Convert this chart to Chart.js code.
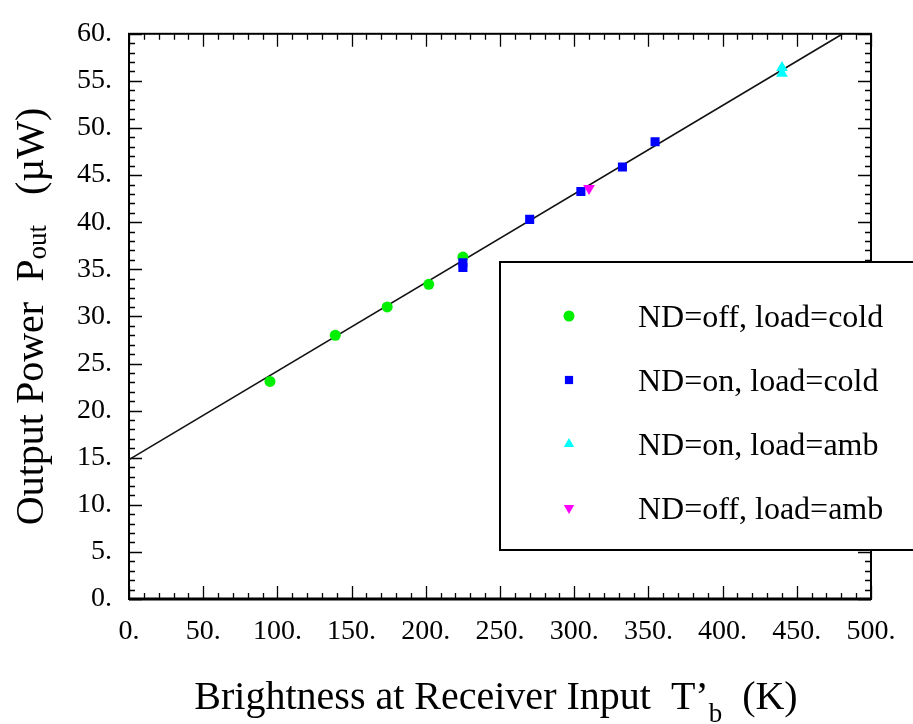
<!DOCTYPE html>
<html>
<head>
<meta charset="utf-8">
<script src="https://cdn.jsdelivr.net/npm/chart.js@4.4.0/dist/chart.umd.min.js"></script>
<style>
  html, body { margin: 0; padding: 0; background: #fff; }
  #wrap { width: 913px; height: 724px; }
</style>
</head>
<body>
<div id="wrap"><canvas id="c" width="913" height="724"></canvas></div>
<script>
// ---- data ----
const greenX = [95, 139, 174, 202, 225];
const greenY = [23.1, 28.0, 31.0, 33.4, 36.3];
const blueX = [225, 225, 270, 304.5, 332.5, 354.5];
const blueY = [35.2, 35.7, 40.3, 43.25, 45.85, 48.55];
const cyanX = [440, 440];
const cyanY = [56.4, 55.8];
const magentaX = [310];
const magentaY = [43.6];
const fitX = [0, 481];
const fitY = [14.8, 60];
const seriesLabels = ['ND=off, load=cold', 'ND=on, load=cold', 'ND=on, load=amb', 'ND=off, load=amb'];
const xRange = [0, 500];
const yRange = [0, 60];

const pts = (xs, ys) => xs.map((x, i) => ({ x: x, y: ys[i] }));
const SERIF = "'Liberation Serif', 'DejaVu Serif', serif";
Chart.defaults.font.family = SERIF;
Chart.defaults.color = '#000';

const frameTicks = {
  id: 'frameTicks',
  beforeDatasetsDraw(chart) {
    const { ctx, chartArea: a, scales: { x, y } } = chart;
    ctx.save();
    ctx.strokeStyle = '#000';
    ctx.lineWidth = 1.3;
    ctx.beginPath();
    for (let v = xRange[0]; v <= xRange[1]; v += 10) {
      const px = Math.round(x.getPixelForValue(v)) + 0.5;
      const len = (v % 50 === 0) ? 13 : 6;
      ctx.moveTo(px, a.bottom); ctx.lineTo(px, a.bottom - len);
      ctx.moveTo(px, a.top); ctx.lineTo(px, a.top + len);
    }
    for (let v = yRange[0]; v <= yRange[1]; v += 1) {
      const py = Math.round(y.getPixelForValue(v)) + 0.5;
      const len = (v % 5 === 0) ? 13 : 6;
      ctx.moveTo(a.left, py); ctx.lineTo(a.left + len, py);
      ctx.moveTo(a.right, py); ctx.lineTo(a.right - len, py);
    }
    ctx.stroke();
    ctx.lineWidth = 2;
    ctx.strokeRect(a.left, a.top, a.right - a.left, a.bottom - a.top);
    ctx.lineWidth = 3;
    ctx.beginPath();
    ctx.moveTo(a.left, a.bottom); ctx.lineTo(a.right, a.bottom);
    ctx.stroke();
    ctx.restore();
  }
};

function drawSegments(ctx, segs) {
  let total = 0;
  segs.forEach(s => { ctx.font = s.size + 'px ' + SERIF; s.w = ctx.measureText(s.text).width; total += s.w; });
  let cur = -total / 2;
  segs.forEach(s => {
    ctx.font = s.size + 'px ' + SERIF;
    ctx.fillText(s.text, cur, s.dy || 0);
    cur += s.w;
  });
}

const overlay = {
  id: 'overlay',
  afterDraw(chart) {
    const { ctx, chartArea: a } = chart;
    ctx.save();
    ctx.fillStyle = '#000';
    ctx.textAlign = 'left';
    ctx.textBaseline = 'alphabetic';
    // x title
    ctx.save();
    ctx.translate((a.left + a.right) / 2 - 4, 709);
    drawSegments(ctx, [
      { text: 'Brightness at Receiver Input  T\u2019', size: 40 },
      { text: 'b', size: 27, dy: 13 },
      { text: '  (K)', size: 40 }
    ]);
    ctx.restore();
    // y title
    ctx.save();
    ctx.translate(43, (a.top + a.bottom) / 2);
    ctx.rotate(-Math.PI / 2);
    drawSegments(ctx, [
      { text: 'Output Power  P', size: 40 },
      { text: 'out', size: 27, dy: 3 },
      { text: '   (\u00b5W)', size: 40 }
    ]);
    ctx.restore();

    // legend box
    const bx = 500, by = 262, bw = 420, bh = 288;
    ctx.fillStyle = '#fff';
    ctx.fillRect(bx, by, bw, bh);
    ctx.strokeStyle = '#000';
    ctx.lineWidth = 2;
    ctx.strokeRect(bx, by, bw, bh);
    const rows = [316, 380, 444, 508];
    const dsIdx = [1, 2, 3, 4];
    dsIdx.forEach((di, i) => {
      const ds = chart.data.datasets[di];
      ctx.fillStyle = ds.backgroundColor;
      ctx.strokeStyle = ds.borderColor;
      ctx.lineWidth = 0;
      Chart.helpers.drawPoint(ctx, {
        pointStyle: ds.pointStyle,
        radius: ds.legendRadius,
        rotation: ds.rotation || 0,
        borderWidth: 0
      }, 569, rows[i]);
      ctx.fillStyle = '#000';
      ctx.font = '32px ' + SERIF;
      ctx.fillText(ds.label, 638, rows[i] + 11);
    });
    ctx.restore();
  }
};

new Chart(document.getElementById('c'), {
  type: 'scatter',
  data: {
    datasets: [
      {
        type: 'line', label: 'fit', data: pts(fitX, fitY),
        borderColor: '#111', borderWidth: 1.6, pointRadius: 0, fill: false, order: 10
      },
      {
        label: seriesLabels[0], data: pts(greenX, greenY), pointStyle: 'circle',
        backgroundColor: '#00f000', borderColor: '#00f000', borderWidth: 0,
        pointRadius: 5.5, legendRadius: 5.5, order: 4
      },
      {
        label: seriesLabels[1], data: pts(blueX, blueY), pointStyle: 'rect',
        backgroundColor: '#0000ff', borderColor: '#0000ff', borderWidth: 0,
        pointRadius: 6.4, legendRadius: 5.8, order: 3
      },
      {
        label: seriesLabels[2], data: pts(cyanX, cyanY), pointStyle: 'triangle',
        backgroundColor: '#00ffff', borderColor: '#00ffff', borderWidth: 0,
        pointRadius: 6.8, legendRadius: 6, order: 2
      },
      {
        label: seriesLabels[3], data: pts(magentaX, magentaY), pointStyle: 'triangle', rotation: 180,
        backgroundColor: '#ff00ff', borderColor: '#ff00ff', borderWidth: 0,
        pointRadius: 6.8, pointRotation: 180, legendRadius: 6, order: 1
      }
    ]
  },
  options: {
    responsive: false,
    animation: false,
    devicePixelRatio: 1,
    layout: { padding: { left: 0, top: 20, right: 42, bottom: 0 } },
    plugins: { legend: { display: false }, tooltip: { enabled: false } },
    scales: {
      x: {
        type: 'linear', min: xRange[0], max: xRange[1],
        grid: { display: false, drawTicks: false },
        border: { display: false },
        ticks: {
          stepSize: 50, padding: 16, color: '#000', maxRotation: 0, autoSkip: false,
          font: { family: SERIF, size: 28 },
          callback: v => v + '.'
        },
        afterFit: s => { s.height = 125; }
      },
      y: {
        type: 'linear', min: yRange[0], max: yRange[1],
        grid: { display: false, drawTicks: false },
        border: { display: false },
        ticks: {
          stepSize: 5, padding: 17, color: '#000', autoSkip: false,
          font: { family: SERIF, size: 28 },
          callback: v => v + '.'
        },
        afterFit: s => { s.width = 129; }
      }
    }
  },
  plugins: [frameTicks, overlay]
});
</script>
</body>
</html>
